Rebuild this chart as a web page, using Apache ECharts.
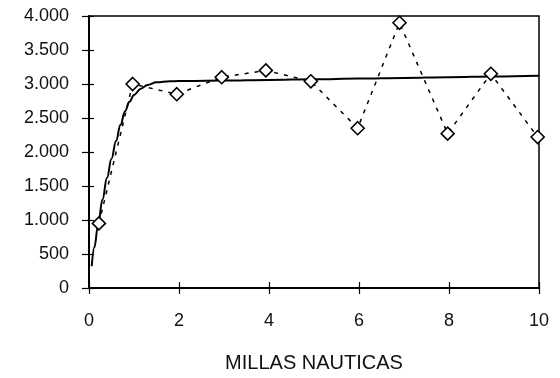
<!DOCTYPE html>
<html>
<head>
<meta charset="utf-8">
<script src="https://cdn.jsdelivr.net/npm/echarts@6/dist/echarts.min.js"></script>
<style>
html,body{margin:0;padding:0;background:#fff;}
#chart{width:560px;height:378px;}
</style>
</head>
<body>
<div id="chart"></div>
<script>
// Observed values (diamonds, dashed line)
var obsX = [0.22, 0.97, 1.95, 2.95, 3.93, 4.93, 5.97, 6.9, 7.97, 8.93, 9.97];
var obsY = [950, 3000, 2850, 3100, 3200, 3040, 2350, 3900, 2270, 3150, 2220];
// Fitted curve (solid line)
var fitX = [0.06, 0.12, 0.2, 0.3, 0.4, 0.5, 0.6, 0.7, 0.8, 0.9, 1.0, 1.15, 1.3, 1.5, 1.8, 2.2, 3, 4, 5, 6, 7, 8, 9, 10];
var fitY = [320, 600, 920, 1300, 1620, 1900, 2160, 2400, 2600, 2740, 2840, 2930, 2985, 3025, 3040, 3045, 3050, 3060, 3070, 3080, 3090, 3100, 3110, 3120];
// Tick labels
var yTickLabels = ['0', '500', '1.000', '1.500', '2.000', '2.500', '3.000', '3.500', '4.000'];
var xTickLabels = ['0', '2', '4', '6', '8', '10'];
var xName = 'MILLAS NAUTICAS';

function zip(a, b) { return a.map(function (v, i) { return [v, b[i]]; }); }

var font = 'Liberation Sans, Arial, sans-serif';
var chart = echarts.init(document.getElementById('chart'), null, {renderer: 'canvas'});
chart.setOption({
  animation: false,
  backgroundColor: '#fff',
  grid: {left: 89, right: 21, top: 16, bottom: 88, show: true, borderColor: '#000', borderWidth: 1.5, backgroundColor: 'transparent'},
  xAxis: [{
    type: 'value', min: 0, max: 10, interval: 2, position: 'bottom',
    name: xName, nameLocation: 'middle', nameGap: 65,
    nameTextStyle: {fontFamily: font, fontSize: 20, color: '#111'},
    axisLine: {show: true, lineStyle: {color: '#000', width: 2}},
    axisTick: {show: true, inside: false, length: 6, lineStyle: {color: '#000', width: 1.2}},
    axisLabel: {margin: 24, fontFamily: font, fontSize: 18, color: '#111',
      formatter: function (v) { return xTickLabels[Math.round(v / 2)]; }},
    splitLine: {show: false}
  }, {
    type: 'value', min: 0, max: 10, interval: 2, position: 'bottom',
    axisLine: {show: false},
    axisTick: {show: true, inside: true, length: 6, lineStyle: {color: '#000', width: 1.2}},
    axisLabel: {show: false},
    splitLine: {show: false}
  }],
  yAxis: [{
    type: 'value', min: 0, max: 4000, interval: 500, position: 'left',
    axisLine: {show: true, lineStyle: {color: '#000', width: 2}},
    axisTick: {show: true, inside: false, length: 7, lineStyle: {color: '#000', width: 1.2}},
    axisLabel: {margin: 20, fontFamily: font, fontSize: 18, color: '#111',
      formatter: function (v) { return yTickLabels[Math.round(v / 500)]; }},
    splitLine: {show: false}
  }, {
    type: 'value', min: 0, max: 4000, interval: 500, position: 'left',
    axisLine: {show: false},
    axisTick: {show: true, inside: true, length: 5, lineStyle: {color: '#000', width: 1.2}},
    axisLabel: {show: false},
    splitLine: {show: false}
  }],
  series: [{
    type: 'line',
    data: zip(fitX, fitY),
    smooth: 0.4,
    smoothMonotone: 'x',
    showSymbol: false,
    symbol: 'none',
    lineStyle: {color: '#000', width: 2},
    z: 2
  }, {
    type: 'line',
    data: zip(obsX, obsY),
    symbol: 'diamond',
    symbolSize: 13,
    showSymbol: true,
    itemStyle: {color: '#fff', borderColor: '#000', borderWidth: 1.6},
    lineStyle: {color: '#000', width: 1.5, type: [4, 6]},
    z: 3
  }]
});
</script>
</body>
</html>
